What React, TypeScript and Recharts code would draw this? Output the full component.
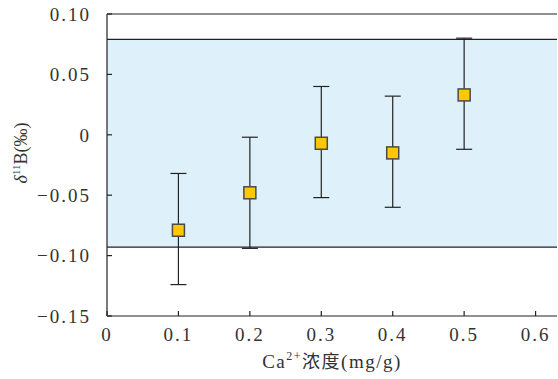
import { ScatterChart, Scatter, XAxis, YAxis, ErrorBar, ReferenceArea, ReferenceLine } from 'recharts';

// Ca2+ concentration (mg/g) and measured δ11B (‰)
const concentrations = [0.1, 0.2, 0.3, 0.4, 0.5];
const delta11B = [-0.079, -0.048, -0.007, -0.015, 0.033];
const errLow = [0.045, 0.046, 0.045, 0.045, 0.045];
const errHigh = [0.047, 0.046, 0.047, 0.047, 0.047];

// uncertainty band
const bandLow = -0.093;
const bandHigh = 0.079;

const xTicks = [0, 0.1, 0.2, 0.3, 0.4, 0.5, 0.6];
const yTicks = [0.1, 0.05, 0, -0.05, -0.1, -0.15];

const data = concentrations.map((c, i) => ({
  x: c,
  y: delta11B[i],
  err: [errLow[i], errHigh[i]],
}));

const FONT = '"Liberation Serif", "DejaVu Serif", serif';
const INK = '#222';
const TICK_LEN = 5;
const X_MARGIN = 12;
const Y_MARGIN = 16;

const fmtY = (v: number) => (Math.abs(v) < 1e-9 ? '0' : (v < 0 ? '\u2212' : '') + Math.abs(v).toFixed(2));
const fmtX = (v: number) => (v === 0 ? '0' : v.toFixed(1));

function XTick(props: any) {
  const { x, y, payload } = props;
  const axisY = y - X_MARGIN;
  return (
    <g>
      <line x1={x} x2={x} y1={axisY} y2={axisY - TICK_LEN} stroke={INK} strokeWidth={1.2} />
      <text x={x} y={y} dy="0.71em" textAnchor="middle" fontFamily={FONT} fontSize={19} letterSpacing={2} fill="#333">
        {fmtX(payload.value)}
      </text>
    </g>
  );
}

function YTick(props: any) {
  const { x, y, payload } = props;
  const axisX = x + Y_MARGIN;
  return (
    <g>
      <line x1={axisX} x2={axisX + TICK_LEN} y1={y} y2={y} stroke={INK} strokeWidth={1.2} />
      <text x={x} y={y} dy="0.355em" textAnchor="end" fontFamily={FONT} fontSize={19} letterSpacing={2} fill="#333">
        {fmtY(payload.value)}
      </text>
    </g>
  );
}

function XLabel(props: any) {
  const { x, y, width } = props.viewBox;
  return (
    <text x={x + width / 2} y={y + 52} textAnchor="middle" fontFamily={FONT} fontSize={19} letterSpacing={1.5} fill="#333">
      Ca
      <tspan fontSize={12} dy={-8}>2+</tspan>
      <tspan dy={8} fontFamily={'"Noto Sans CJK SC", sans-serif'} fontSize={18}>浓度</tspan>
      <tspan>(mg/g)</tspan>
    </text>
  );
}

function YLabel(props: any) {
  const { y, height } = props.viewBox;
  const tx = 27;
  const ty = y + height / 2 - 12;
  return (
    <text x={tx} y={ty} transform={`rotate(-90, ${tx}, ${ty})`} textAnchor="middle" fontFamily={FONT} fontSize={18} fill="#333">
      <tspan fontStyle="italic">δ</tspan>
      <tspan fontSize={11} dy={-7}>11</tspan>
      <tspan dy={7}>B(‰)</tspan>
    </text>
  );
}

function Square(props: any) {
  const { cx, cy } = props;
  return <rect x={cx - 6} y={cy - 6} width={12} height={12} fill="#ffc800" stroke="#4a4a4a" strokeWidth={1.5} />;
}

export default function App() {
  return (
    <div style={{ position: 'absolute', left: 0, top: 0, background: '#fff' }}>
      <ScatterChart width={558} height={379} margin={{ top: 14, right: 1, bottom: 0, left: 0 }}>
        <ReferenceArea y1={bandLow} y2={bandHigh} fill="#def1fb" fillOpacity={1} stroke="none" />
        <ReferenceLine y={bandHigh} stroke={INK} strokeWidth={1.2} />
        <ReferenceLine y={bandLow} stroke={INK} strokeWidth={1.2} />
        <ReferenceLine y={0.1} stroke={INK} strokeWidth={1.2} />
        <XAxis
          type="number"
          dataKey="x"
          domain={[0, 0.63]}
          ticks={xTicks}
          height={63}
          tickSize={0}
          tickMargin={X_MARGIN}
          tickLine={false}
          tick={<XTick />}
          axisLine={{ stroke: INK, strokeWidth: 1.2 }}
          interval={0}
          label={{ content: (p: any) => <XLabel {...p} /> }}
        />
        <YAxis
          type="number"
          dataKey="y"
          domain={[-0.15, 0.1]}
          ticks={yTicks}
          width={107}
          tickSize={0}
          tickMargin={Y_MARGIN}
          tickLine={false}
          tick={<YTick />}
          axisLine={{ stroke: INK, strokeWidth: 1.2 }}
          interval={0}
          label={{ content: (p: any) => <YLabel {...p} /> }}
        />
        <Scatter data={data} shape={<Square />} isAnimationActive={false}>
          <ErrorBar dataKey="err" direction="y" width={8} stroke={INK} strokeWidth={1.2} />
        </Scatter>
      </ScatterChart>
    </div>
  );
}
